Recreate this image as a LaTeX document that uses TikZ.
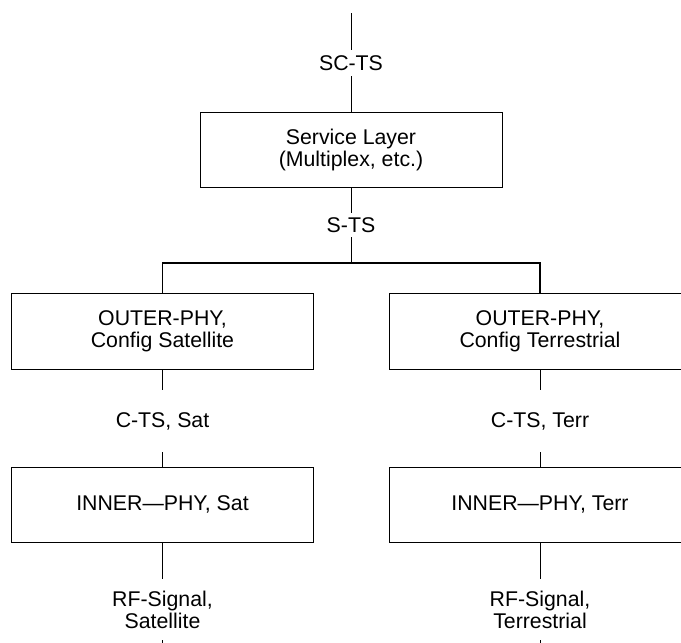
\documentclass[tikz,border=0pt]{standalone}
\usepackage{fontspec}
\setmainfont{Liberation Sans}
\begin{document}
\begin{tikzpicture}[x=1pt,y=-1pt,
  font=\fontsize{21.3}{22}\selectfont,
  layerbox/.style={draw=black,line width=1pt,minimum width=302pt,minimum height=75pt,align=center,inner sep=0pt},
  lbl/.style={align=center,inner sep=0pt},
  conn/.style={draw=black,line width=0.8pt},
  barline/.style={draw=black,line width=1.8pt}]
\useasboundingbox (0,0) rectangle (681,643);
\clip (0,0) rectangle (681,643);
% nodes
\coordinate (top) at (351,13);
\node[lbl,minimum height=26pt] (sc) at (351,63) {SC-TS};
\node[layerbox] (svc) at (351,150) {Service Layer\\(Multiplex, etc.)};
\node[lbl,minimum height=24pt] (sts) at (351,225) {S-TS};
\coordinate (bar) at (351,263);
\node[layerbox,minimum height=76pt] (oL) at (162.5,331) {OUTER-PHY,\\Config Satellite};
\node[layerbox,minimum height=76pt] (oR) at (540,331) {OUTER-PHY,\\Config Terrestrial};
\node[lbl,minimum height=62pt] (cL) at (162.5,421) {C-TS, Sat};
\node[lbl,minimum height=62pt] (cR) at (540,421) {C-TS, Terr};
\node[layerbox] (iL) at (162.5,504.5) {INNER—PHY, Sat};
\node[layerbox] (iR) at (540,504.5) {INNER—PHY, Terr};
\node[lbl,minimum height=61pt] (rL) at (162.5,609.5) {RF-Signal,\\Satellite};
\node[lbl,minimum height=61pt] (rR) at (540,609.5) {RF-Signal,\\Terrestrial};
\coordinate (bL) at (162.5,643);
\coordinate (bR) at (540,643);
% connectors
\draw[conn] (top) -- (sc.north);
\draw[conn] (sc.south) -- (svc.north);
\draw[conn] (svc.south) -- (sts.north);
\draw[conn] (sts.south) -- (bar);
\draw[barline] (oL.north) |- (bar) -| (oR.north);
\draw[conn] (oL.south) -- (cL.north);
\draw[conn] (cL.south) -- (iL.north);
\draw[conn] (iL.south) -- (rL.north);
\draw[conn] (rL.south) -- (bL);
\draw[conn] (oR.south) -- (cR.north);
\draw[conn] (cR.south) -- (iR.north);
\draw[conn] (iR.south) -- (rR.north);
\draw[conn] (rR.south) -- (bR);
\end{tikzpicture}
\end{document}
